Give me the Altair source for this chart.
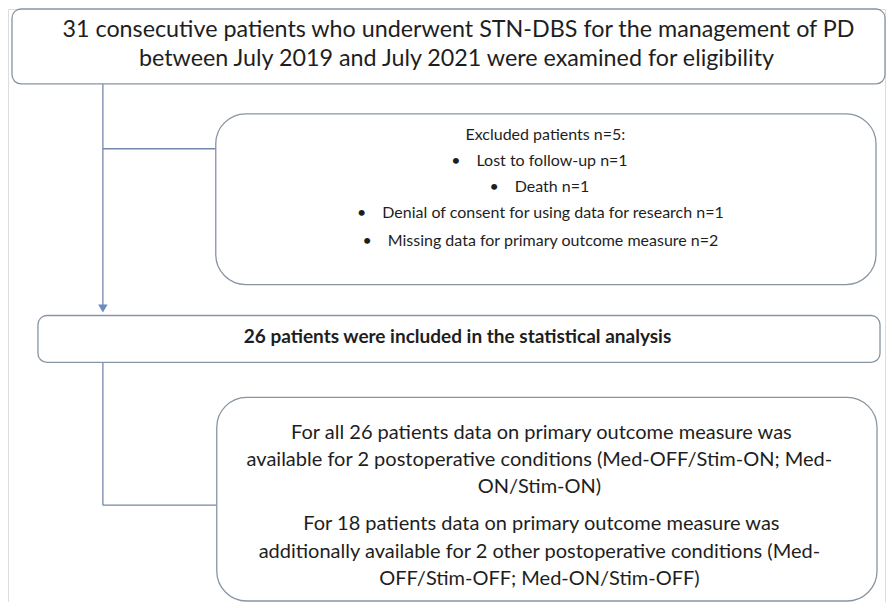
import altair as alt
import pandas as pd

# ---- diagram content (layout units = pixels of the reference image) ----
box_ids = ["screened", "excluded", "included", "conditions"]
box_left = [12, 216, 38, 217]
box_right = [886, 877, 881, 878]
box_top = [8, 113, 315, 397]
box_bottom = [83, 284, 362, 601]
box_round = ["small", "large", "small", "large"]

seg_x1 = [103, 103, 103, 103]
seg_y1 = [83, 148, 362, 505]
seg_x2 = [103, 216, 103, 217]
seg_y2 = [309, 148, 505, 505]

arrow_x = [103]
arrow_y = [308]

GAP = "\u2002\u2002"  # tab-like gap after bullets

text_lines = [
    "31 consecutive patients who underwent STN-DBS for the management of PD",
    "between July 2019 and July 2021 were examined for eligibility",
    "Excluded patients n=5:",
    "•" + GAP + "Lost to follow-up n=1",
    "•" + GAP + "Death n=1",
    "•" + GAP + "Denial of consent for using data for research n=1",
    "•" + GAP + "Missing data for primary outcome measure n=2",
    "26 patients were included in the statistical analysis",
    "For all 26 patients data on primary outcome measure was",
    "available for 2 postoperative conditions (Med-OFF/Stim-ON; Med-",
    "ON/Stim-ON)",
    "For 18 patients data on primary outcome measure was",
    "additionally available for 2 other postoperative conditions (Med-",
    "OFF/Stim-OFF; Med-ON/Stim-OFF)",
]
text_x = [459, 457, 546, 540, 540, 541, 541, 458, 542, 540, 540, 542, 540, 540]
text_y = [29, 58, 134, 160, 186, 212, 240, 337, 433, 460, 487, 524, 552, 579]
text_group = ["top", "top", "box", "box", "box", "box", "box", "bold",
              "body", "body", "body", "body", "body", "body"]

boxes = pd.DataFrame({"id": box_ids, "x1": box_left, "x2": box_right,
                      "y1": box_top, "y2": box_bottom, "round": box_round})
segs = pd.DataFrame({"x1": seg_x1, "y1": seg_y1, "x2": seg_x2, "y2": seg_y2})
arrows = pd.DataFrame({"x": arrow_x, "y": arrow_y})
texts = pd.DataFrame({"text": text_lines, "x": text_x, "y": text_y, "g": text_group})

W, H = 878, 594
xs = alt.Scale(domain=[8, 8 + W], nice=False, zero=False)
ys = alt.Scale(domain=[8, 8 + H], nice=False, zero=False, reverse=True)

FONT = "Lato"
STROKE_BOX = "#8795a3"
STROKE_LINE = "#7388ab"

def box_layer(kind, radius):
    return alt.Chart(boxes).transform_filter(alt.datum["round"] == kind).mark_rect(
        fill="white", stroke=STROKE_BOX, strokeWidth=1.3, cornerRadius=radius
    ).encode(
        x=alt.X("x1:Q", scale=xs, axis=None),
        x2="x2:Q",
        y=alt.Y("y1:Q", scale=ys, axis=None),
        y2="y2:Q",
    )

lines = alt.Chart(segs).mark_rule(color=STROKE_LINE, strokeWidth=1.3).encode(
    x=alt.X("x1:Q", scale=xs, axis=None), x2="x2:Q",
    y=alt.Y("y1:Q", scale=ys, axis=None), y2="y2:Q",
)

arrow = alt.Chart(arrows).mark_point(
    shape="triangle-down", filled=True, color="#6b8bc2", size=90, opacity=1
).encode(
    x=alt.X("x:Q", scale=xs, axis=None),
    y=alt.Y("y:Q", scale=ys, axis=None),
)

def text_layer(group, size, weight="normal"):
    return alt.Chart(texts).transform_filter(alt.datum.g == group).mark_text(
        font=FONT, fontSize=size, fontWeight=weight, color="#1e1e1e",
        align="center", baseline="middle"
    ).encode(
        x=alt.X("x:Q", scale=xs, axis=None),
        y=alt.Y("y:Q", scale=ys, axis=None),
        text="text:N",
    )

chart = alt.layer(
    lines,
    box_layer("small", 9),
    box_layer("large", 30),
    arrow,
    text_layer("top", 23.3),
    text_layer("box", 16),
    text_layer("bold", 19, "bold"),
    text_layer("body", 20),
).properties(
    width=W, height=H, padding=0,
    autosize=alt.AutoSizeParams(type="fit", contains="padding"),
).configure_view(strokeWidth=0).configure(background="white")

chart.save("out.html", embed_options={"renderer": "svg", "actions": False})
